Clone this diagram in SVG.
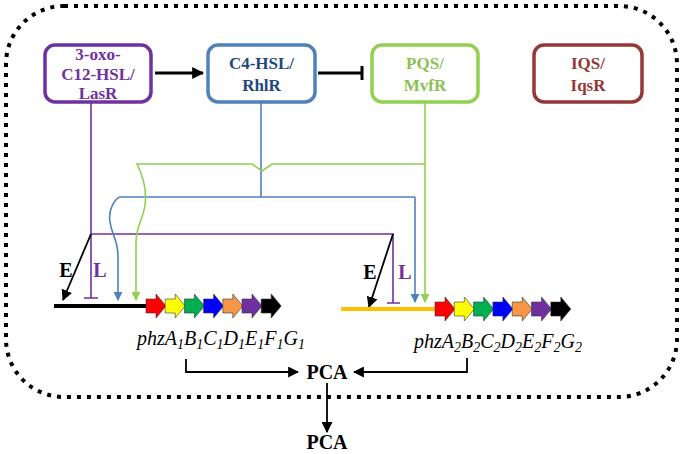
<svg xmlns="http://www.w3.org/2000/svg" width="685" height="454" viewBox="0 0 685 454">
<style>
.box{fill:#fff;stroke-width:3.5}
.bt{font-family:"Liberation Serif","Times New Roman",serif;font-weight:bold;font-size:17px;text-anchor:middle}
.lbl{font-family:"Liberation Serif","Times New Roman",serif;font-weight:bold;font-size:20px;text-anchor:middle}
.gene{font-family:"Liberation Serif","Times New Roman",serif;font-style:italic;font-size:20px}
.pca{font-family:"Liberation Serif","Times New Roman",serif;font-weight:bold;font-size:20px;text-anchor:middle}
.ga{stroke:#333;stroke-width:0.6}
.reg{fill:none;stroke-width:1.6}
</style>
<defs>
<marker id="abig" viewBox="0 0 10 10" refX="9" refY="5" markerWidth="12" markerHeight="12" orient="auto" markerUnits="userSpaceOnUse"><path d="M0,0L10,5L0,10z" fill="#000"/></marker>
<marker id="amid" viewBox="0 0 10 10" refX="9" refY="5" markerWidth="11" markerHeight="11" orient="auto" markerUnits="userSpaceOnUse"><path d="M0,0L10,5L0,10z" fill="#000"/></marker>
<marker id="ablue" viewBox="0 0 10 10" refX="9" refY="5" markerWidth="9" markerHeight="9" orient="auto" markerUnits="userSpaceOnUse"><path d="M0,0L10,5L0,10z" fill="#4F81BD"/></marker>
<marker id="agreen" viewBox="0 0 10 10" refX="9" refY="5" markerWidth="9" markerHeight="9" orient="auto" markerUnits="userSpaceOnUse"><path d="M0,0L10,5L0,10z" fill="#92D050"/></marker>
<polygon id="garr" points="0,-7 10,-7 10,-12 20,0 10,12 10,7 0,7"/>
</defs>
<rect x="6" y="6" width="671" height="391" rx="58" fill="none" stroke="#000" stroke-width="4" stroke-dasharray="4 6"/>

<g id="lasr">
<rect class="box" x="45" y="45" width="106" height="57" rx="10" stroke="#7030A0"/>
<text class="bt" x="98" y="60" fill="#7030A0">3-oxo-</text>
<text class="bt" x="98" y="80" fill="#7030A0">C12-HSL/</text>
<text class="bt" x="98" y="99" fill="#7030A0">LasR</text>
</g>
<g id="rhlr">
<rect class="box" x="208" y="45" width="107" height="57" rx="10" stroke="#4F81BD"/>
<text class="bt" x="261.5" y="69" fill="#1F497D">C4-HSL/</text>
<text class="bt" x="261.5" y="91" fill="#1F497D">RhlR</text>
</g>
<g id="pqs">
<rect class="box" x="372" y="45" width="106" height="57" rx="10" stroke="#92D050"/>
<text class="bt" x="425" y="69" fill="#8CC152">PQS/</text>
<text class="bt" x="425" y="91" fill="#8CC152">MvfR</text>
</g>
<g id="iqs">
<rect class="box" x="534" y="45" width="108" height="57" rx="10" stroke="#953735"/>
<text class="bt" x="588" y="69" fill="#953735">IQS/</text>
<text class="bt" x="588" y="91" fill="#953735">IqsR</text>
</g>

<g id="connectors">
<line x1="155" y1="73" x2="203" y2="73" stroke="#000" stroke-width="3" marker-end="url(#abig)"/>
<line x1="318" y1="73" x2="362" y2="73" stroke="#000" stroke-width="3"/>
<line x1="362" y1="66" x2="362" y2="80" stroke="#000" stroke-width="3"/>

<path class="reg" stroke="#7030A0" d="M91,102V298M84,298H98M91,234H393V303M387,303H400"/>
<line x1="91" y1="234" x2="63" y2="300" stroke="#000" stroke-width="1.8" marker-end="url(#amid)"/>
<line x1="393" y1="234" x2="369" y2="307" stroke="#000" stroke-width="1.8" marker-end="url(#amid)"/>

<path class="reg" stroke="#4F81BD" d="M261,102V197M415,197H120C114,199 108,211 110,222C112,236 118,240 118,256V300" marker-end="url(#ablue)"/>
<path class="reg" stroke="#4F81BD" d="M415,197V302" marker-end="url(#ablue)"/>
<path class="reg" stroke="#92D050" d="M425,164H272L262,171L252,164H137C143,176 147,190 145,205C143,220 136,226 136,242V300" marker-end="url(#agreen)"/>
<path class="reg" stroke="#92D050" d="M425,102V302" marker-end="url(#agreen)"/>

<path d="M186,359V372H298" fill="none" stroke="#000" stroke-width="1.8" marker-end="url(#amid)"/>
<path d="M467,358V372H354" fill="none" stroke="#000" stroke-width="1.8" marker-end="url(#amid)"/>
<line x1="327" y1="383" x2="327" y2="432" stroke="#000" stroke-width="1.8" marker-end="url(#amid)"/>
</g>

<g id="labels">
<text class="lbl" x="66" y="277" fill="#000">E</text>
<text class="lbl" x="100" y="277" fill="#7030A0">L</text>
<text class="lbl" x="370" y="279" fill="#000">E</text>
<text class="lbl" x="405" y="279" fill="#7030A0">L</text>
</g>

<g id="gene1">
<line x1="54" y1="306" x2="148" y2="306" stroke="#000" stroke-width="4"/>
<use href="#garr" class="ga" x="146" y="306" fill="#FF0000"/>
<use href="#garr" class="ga" x="165.2" y="306" fill="#FFFF00"/>
<use href="#garr" class="ga" x="184.4" y="306" fill="#00B050"/>
<use href="#garr" class="ga" x="203.6" y="306" fill="#0000FF"/>
<use href="#garr" class="ga" x="222.8" y="306" fill="#F79646"/>
<use href="#garr" class="ga" x="242" y="306" fill="#7030A0"/>
<use href="#garr" class="ga" x="261.2" y="306" fill="#000"/>
<text class="gene" x="137" y="345">phzA<tspan font-size="14" dy="4">1</tspan><tspan dy="-4">B</tspan><tspan font-size="14" dy="4">1</tspan><tspan dy="-4">C</tspan><tspan font-size="14" dy="4">1</tspan><tspan dy="-4">D</tspan><tspan font-size="14" dy="4">1</tspan><tspan dy="-4">E</tspan><tspan font-size="14" dy="4">1</tspan><tspan dy="-4">F</tspan><tspan font-size="14" dy="4">1</tspan><tspan dy="-4">G</tspan><tspan font-size="14" dy="4">1</tspan></text>
</g>
<g id="gene2">
<line x1="341" y1="309" x2="437" y2="309" stroke="#FFC000" stroke-width="4"/>
<use href="#garr" class="ga" x="435" y="309" fill="#FF0000"/>
<use href="#garr" class="ga" x="454.3" y="309" fill="#FFFF00"/>
<use href="#garr" class="ga" x="473.6" y="309" fill="#00B050"/>
<use href="#garr" class="ga" x="492.9" y="309" fill="#0000FF"/>
<use href="#garr" class="ga" x="512.2" y="309" fill="#F79646"/>
<use href="#garr" class="ga" x="531.5" y="309" fill="#7030A0"/>
<use href="#garr" class="ga" x="550.8" y="309" fill="#000"/>
<text class="gene" x="414" y="348">phzA<tspan font-size="14" dy="4">2</tspan><tspan dy="-4">B</tspan><tspan font-size="14" dy="4">2</tspan><tspan dy="-4">C</tspan><tspan font-size="14" dy="4">2</tspan><tspan dy="-4">D</tspan><tspan font-size="14" dy="4">2</tspan><tspan dy="-4">E</tspan><tspan font-size="14" dy="4">2</tspan><tspan dy="-4">F</tspan><tspan font-size="14" dy="4">2</tspan><tspan dy="-4">G</tspan><tspan font-size="14" dy="4">2</tspan></text>
</g>

<g id="pca1"><text class="pca" x="327" y="379">PCA</text></g>
<g id="pca2"><text class="pca" x="327" y="449">PCA</text></g>
</svg>
